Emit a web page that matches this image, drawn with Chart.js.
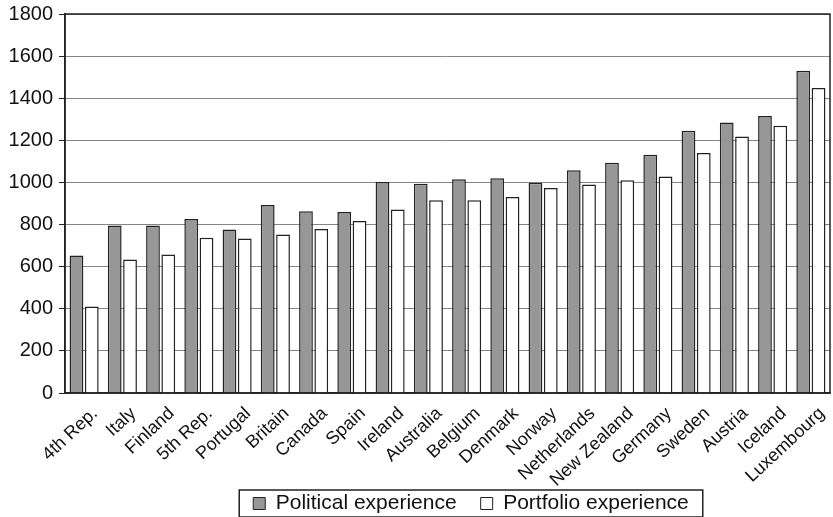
<!DOCTYPE html>
<html>
<head>
<meta charset="utf-8">
<script src="https://cdn.jsdelivr.net/npm/chart.js@4.4.0/dist/chart.umd.min.js"></script>
<style>
  html, body { margin: 0; padding: 0; background: #fff; }
  #wrap { width: 833px; height: 517px; }
</style>
</head>
<body>
<div id="wrap"><canvas id="expChart" width="833" height="517"></canvas></div>
<script>
const countries = ['4th Rep.', 'Italy', 'Finland', '5th Rep.', 'Portugal', 'Britain', 'Canada', 'Spain',
  'Ireland', 'Australia', 'Belgium', 'Denmark', 'Norway', 'Netherlands', 'New Zealand', 'Germany',
  'Sweden', 'Austria', 'Iceland', 'Luxembourg'];
const political = [653, 796, 796, 826, 777, 893, 863, 860, 1002, 994, 1015, 1020, 999, 1058, 1094, 1131, 1245, 1285, 1315, 1530];
const portfolio = [411, 634, 658, 737, 734, 753, 779, 817, 872, 915, 915, 931, 974, 990, 1010, 1028, 1140, 1218, 1269, 1448];
const yTicks = [0, 200, 400, 600, 800, 1000, 1200, 1400, 1600, 1800];

const font = "'Liberation Sans', Arial, sans-serif";
const legendPad = 24;

// legend sits a bit right of centre; frame round plot and legend
const legendShift = { x: 56, y: 9 };
const framePlugin = {
  id: 'frame',
  afterLayout(chart) {
    const lg = chart.legend;
    lg.left += legendShift.x;
    lg.right += legendShift.x;
    lg.top += legendShift.y;
    lg.bottom += legendShift.y;
    // let rotated labels spill below the axis box
    chart.scales.x._computeLabelArea = () => undefined;
  },
  afterDraw(chart) {
    const ctx = chart.ctx;
    const a = chart.chartArea;
    const lg = chart.legend;
    ctx.save();
    ctx.strokeStyle = '#222';
    ctx.lineWidth = 1.5;
    ctx.strokeRect(a.left, a.top, a.right - a.left, a.bottom - a.top);
    const boxes = lg.legendHitBoxes;
    if (boxes && boxes.length) {
      const first = boxes[0], last = boxes[boxes.length - 1];
      const x0 = first.left - 14, x1 = last.left + last.width + 14;
      const y0 = lg.top + legendPad - 3, y1 = y0 + 27;
      ctx.strokeRect(x0, y0, x1 - x0, y1 - y0);
    }
    ctx.restore();
  }
};

new Chart(document.getElementById('expChart'), {
  type: 'bar',
  data: {
    labels: countries,
    datasets: [{
      label: 'Political experience',
      data: political,
      backgroundColor: '#979797',
      borderColor: '#222',
      borderWidth: 1.5
    }, {
      label: 'Portfolio experience',
      data: portfolio,
      backgroundColor: '#ffffff',
      borderColor: '#222',
      borderWidth: 1.5
    }]
  },
  options: {
    responsive: false,
    animation: false,
    layout: { padding: { top: 5, right: 3, left: 0, bottom: 2 } },
    plugins: {
      tooltip: { enabled: false },
      legend: {
        position: 'bottom',
        labels: {
          color: '#111',
          font: { family: font, size: 21 },
          boxWidth: 12,
          boxHeight: 12,
          padding: legendPad,
          generateLabels(chart) {
            return chart.data.datasets.map((ds, i) => ({
              text: ds.label,
              fillStyle: ds.backgroundColor,
              strokeStyle: '#222',
              lineWidth: 1,
              datasetIndex: i,
              hidden: false,
              fontColor: '#111'
            }));
          }
        }
      }
    },
    scales: {
      x: {
        categoryPercentage: 0.6,
        barPercentage: 1.0,
        grid: { display: false },
        border: { color: '#222', width: 1.5 },
        ticks: {
          color: '#111',
          font: { family: font, size: 18 },
          minRotation: 43,
          maxRotation: 43,
          autoSkip: false,
          padding: 2,
          labelOffset: 11
        },
        afterFit(scale) { scale.height = 67; }
      },
      y: {
        min: 0,
        max: 1800,
        afterBuildTicks(scale) { scale.ticks = yTicks.map(v => ({ value: v })); },
        grid: { color: '#858585', lineWidth: 1, drawTicks: true, tickLength: 6, tickColor: '#222' },
        border: { color: '#222', width: 1.5 },
        ticks: {
          color: '#111',
          font: { family: font, size: 20, lineHeight: 0.8 },
          padding: 6,
          callback: v => String(v)
        },
        afterFit(scale) { scale.width = 65; }
      }
    }
  },
  plugins: [framePlugin]
});
</script>
</body>
</html>
